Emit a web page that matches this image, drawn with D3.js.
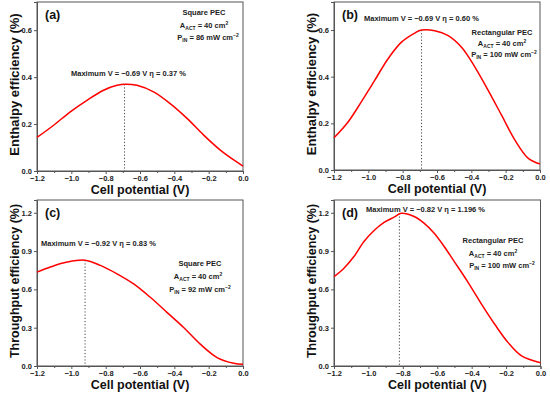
<!DOCTYPE html>
<html><head><meta charset="utf-8">
<script src="https://cdn.jsdelivr.net/npm/d3@7"></script>
<style>
body{margin:0;background:#fff;}
svg{display:block;font-family:"Liberation Sans",Arial,sans-serif;font-weight:bold;}
</style></head>
<body>
<svg id="c" width="550" height="396"></svg>
<script>
// ---- data ----
const xTicks = [-1.2, -1.0, -0.8, -0.6, -0.4, -0.2, 0.0];
const yTicksEnthalpy = [0.0, 0.2, 0.4, 0.6];
const yTicksThroughput = [0.0, 0.3, 0.6, 0.9, 1.2];

const vA = [-1.2, -1.103, -1.006, -0.909, -0.812, -0.734, -0.686, -0.618, -0.521, -0.424, -0.326, -0.229, -0.132, -0.054, 0.0];
const effA = [0.143, 0.195, 0.252, 0.301, 0.344, 0.365, 0.370, 0.365, 0.337, 0.287, 0.224, 0.153, 0.089, 0.047, 0.021];

const vB = [-1.2, -1.118, -1.041, -0.963, -0.885, -0.807, -0.73, -0.69, -0.613, -0.535, -0.457, -0.379, -0.302, -0.224, -0.146, -0.068, 0.0];
const effB = [0.138, 0.206, 0.292, 0.384, 0.477, 0.548, 0.587, 0.600, 0.597, 0.576, 0.526, 0.441, 0.341, 0.235, 0.128, 0.050, 0.026];

const vC = [-1.2, -1.122, -1.025, -0.92, -0.831, -0.734, -0.637, -0.54, -0.443, -0.346, -0.249, -0.151, -0.054, 0.0];
const effC = [0.735, 0.775, 0.814, 0.829, 0.788, 0.722, 0.643, 0.538, 0.420, 0.302, 0.171, 0.066, 0.021, 0.013];

const vD = [-1.2, -1.142, -1.084, -1.026, -0.967, -0.909, -0.851, -0.81, -0.735, -0.677, -0.619, -0.56, -0.498, -0.421, -0.343, -0.266, -0.188, -0.11, 0.0];
const effD = [0.700, 0.766, 0.857, 0.975, 1.061, 1.124, 1.166, 1.196, 1.171, 1.119, 1.041, 0.936, 0.812, 0.655, 0.485, 0.327, 0.183, 0.079, 0.026];

const maxA = {v: -0.69, eta: "0.37", y: 0.370};
const maxB = {v: -0.69, eta: "0.60", y: 0.600};
const maxC = {v: -0.92, eta: "0.83", y: 0.829};
const maxD = {v: -0.82, eta: "1.196", y: 1.196};

const svg = d3.select("#c");
const fmt = d3.format(".1f");

function panel(o){
  const g = svg.append("g");
  const x = d3.scaleLinear().domain([-1.2, 0]).range([o.l, o.r]);
  const y = d3.scaleLinear().domain([0, o.ymax]).range([o.b, o.t]);
  g.append("rect").attr("x", o.l).attr("y", o.t).attr("width", o.r - o.l).attr("height", o.b - o.t)
    .attr("fill", "none").attr("stroke", "#555").attr("stroke-width", 1);
  const xa = g.append("g").attr("transform", `translate(0,${o.b})`)
    .call(d3.axisBottom(x).tickValues(xTicks).tickFormat(fmt).tickSize(3).tickPadding(2));
  const xm = g.append("g").attr("transform", `translate(0,${o.b})`)
    .call(d3.axisBottom(x).tickValues(d3.range(-1.1, 0, 0.2)).tickFormat("").tickSize(2));
  xm.select(".domain").remove();
  const ya = g.append("g").attr("transform", `translate(${o.l},0)`)
    .call(d3.axisLeft(y).tickValues(o.yt).tickFormat(fmt).tickSize(3).tickPadding(2));
  [xa, ya, xm].forEach(a => {
    a.select(".domain").attr("stroke", "#555");
    a.selectAll(".tick line").attr("stroke", "#555");
    a.selectAll(".tick text").attr("font-size", 7.5).attr("font-weight", "bold")
      .attr("font-family", "Liberation Sans, Arial, sans-serif").attr("fill", "#222");
  });
  g.append("text").attr("x", (o.l + o.r) / 2).attr("y", o.b + 23).attr("text-anchor", "middle")
    .attr("font-size", 12.5).attr("fill", "#111").text("Cell potential (V)");
  g.append("text").attr("transform", `translate(${o.l - 18},${(o.t + o.b) / 2 - 2}) rotate(-90)`)
    .attr("text-anchor", "middle").attr("font-size", o.ytSize).attr("fill", "#111").text(o.ytitle);
  g.append("line").attr("x1", x(o.max.v)).attr("x2", x(o.max.v))
    .attr("y1", y(o.max.y)).attr("y2", o.b)
    .attr("stroke", "#444").attr("stroke-width", 1).attr("stroke-dasharray", "1.2,2");
  const line = d3.line().x((d, i) => x(o.v[i])).y(d => y(d)).curve(d3.curveCatmullRom.alpha(0.5));
  g.append("path").datum(o.e).attr("d", line).attr("fill", "none")
    .attr("stroke", "#ff0000").attr("stroke-width", 1.5);
  g.append("text").attr("x", o.l + 8).attr("y", o.t + 17).attr("font-size", 12.5)
    .attr("fill", "#111").text(o.label);
  g.append("text").attr("x", o.mx).attr("y", o.my).attr("font-size", 7.5).attr("fill", "#222")
    .text(`Maximum V = \u2212${Math.abs(o.max.v).toFixed(2)} V \u03b7 = ${o.max.eta} %`);
  const ib = g.append("g").attr("font-size", 7.5).attr("fill", "#222").attr("text-anchor", "middle");
  ib.append("text").attr("x", o.ix).attr("y", o.iy).text(o.name);
  const t2 = ib.append("text").attr("x", o.ix + o.dx2).attr("y", o.iy + o.gap);
  t2.append("tspan").text("A");
  t2.append("tspan").attr("font-size", 5).attr("dy", 2).text("ACT");
  t2.append("tspan").attr("dy", -2).text(" = 40 cm");
  t2.append("tspan").attr("font-size", 5).attr("dy", -3).text("2");
  const t3 = ib.append("text").attr("x", o.ix + o.dx3).attr("y", o.iy + 2 * o.gap);
  t3.append("tspan").text("P");
  t3.append("tspan").attr("font-size", 5).attr("dy", 2).text("IN");
  t3.append("tspan").attr("dy", -2).text(` = ${o.pin} mW cm`);
  t3.append("tspan").attr("font-size", 5).attr("dy", -3).text("\u22122");
}

panel({l: 37, r: 243, t: 2, b: 171, ymax: 0.72, yt: yTicksEnthalpy, v: vA, e: effA, max: maxA,
  label: "(a)", ytitle: "Enthalpy efficiency (%)", ytSize: 13,
  mx: 71, my: 76, name: "Square PEC", ix: 204, iy: 15, gap: 12.5, dx2: 0, dx3: 4, pin: 86});
panel({l: 334, r: 540, t: 2, b: 170, ymax: 0.72, yt: yTicksEnthalpy, v: vB, e: effB, max: maxB,
  label: "(b)", ytitle: "Enthalpy efficiency (%)", ytSize: 13,
  mx: 364, my: 21, name: "Rectangular PEC", ix: 502, iy: 35, gap: 11, dx2: 0, dx3: 2, pin: 100});
panel({l: 37, r: 243, t: 200, b: 366, ymax: 1.3, yt: yTicksThroughput, v: vC, e: effC, max: maxC,
  label: "(c)", ytitle: "Throughput efficiency (%)", ytSize: 12.5,
  mx: 41, my: 246, name: "Square PEC", ix: 200, iy: 266, gap: 13, dx2: -2, dx3: 0, pin: 92});
panel({l: 334, r: 540.5, t: 200, b: 366, ymax: 1.3, yt: yTicksThroughput, v: vD, e: effD, max: maxD,
  label: "(d)", ytitle: "Throughput efficiency (%)", ytSize: 12.5,
  mx: 366, my: 212, name: "Rectangular PEC", ix: 493, iy: 243, gap: 12.5, dx2: 0, dx3: 9, pin: 100});
</script>
</body></html>
